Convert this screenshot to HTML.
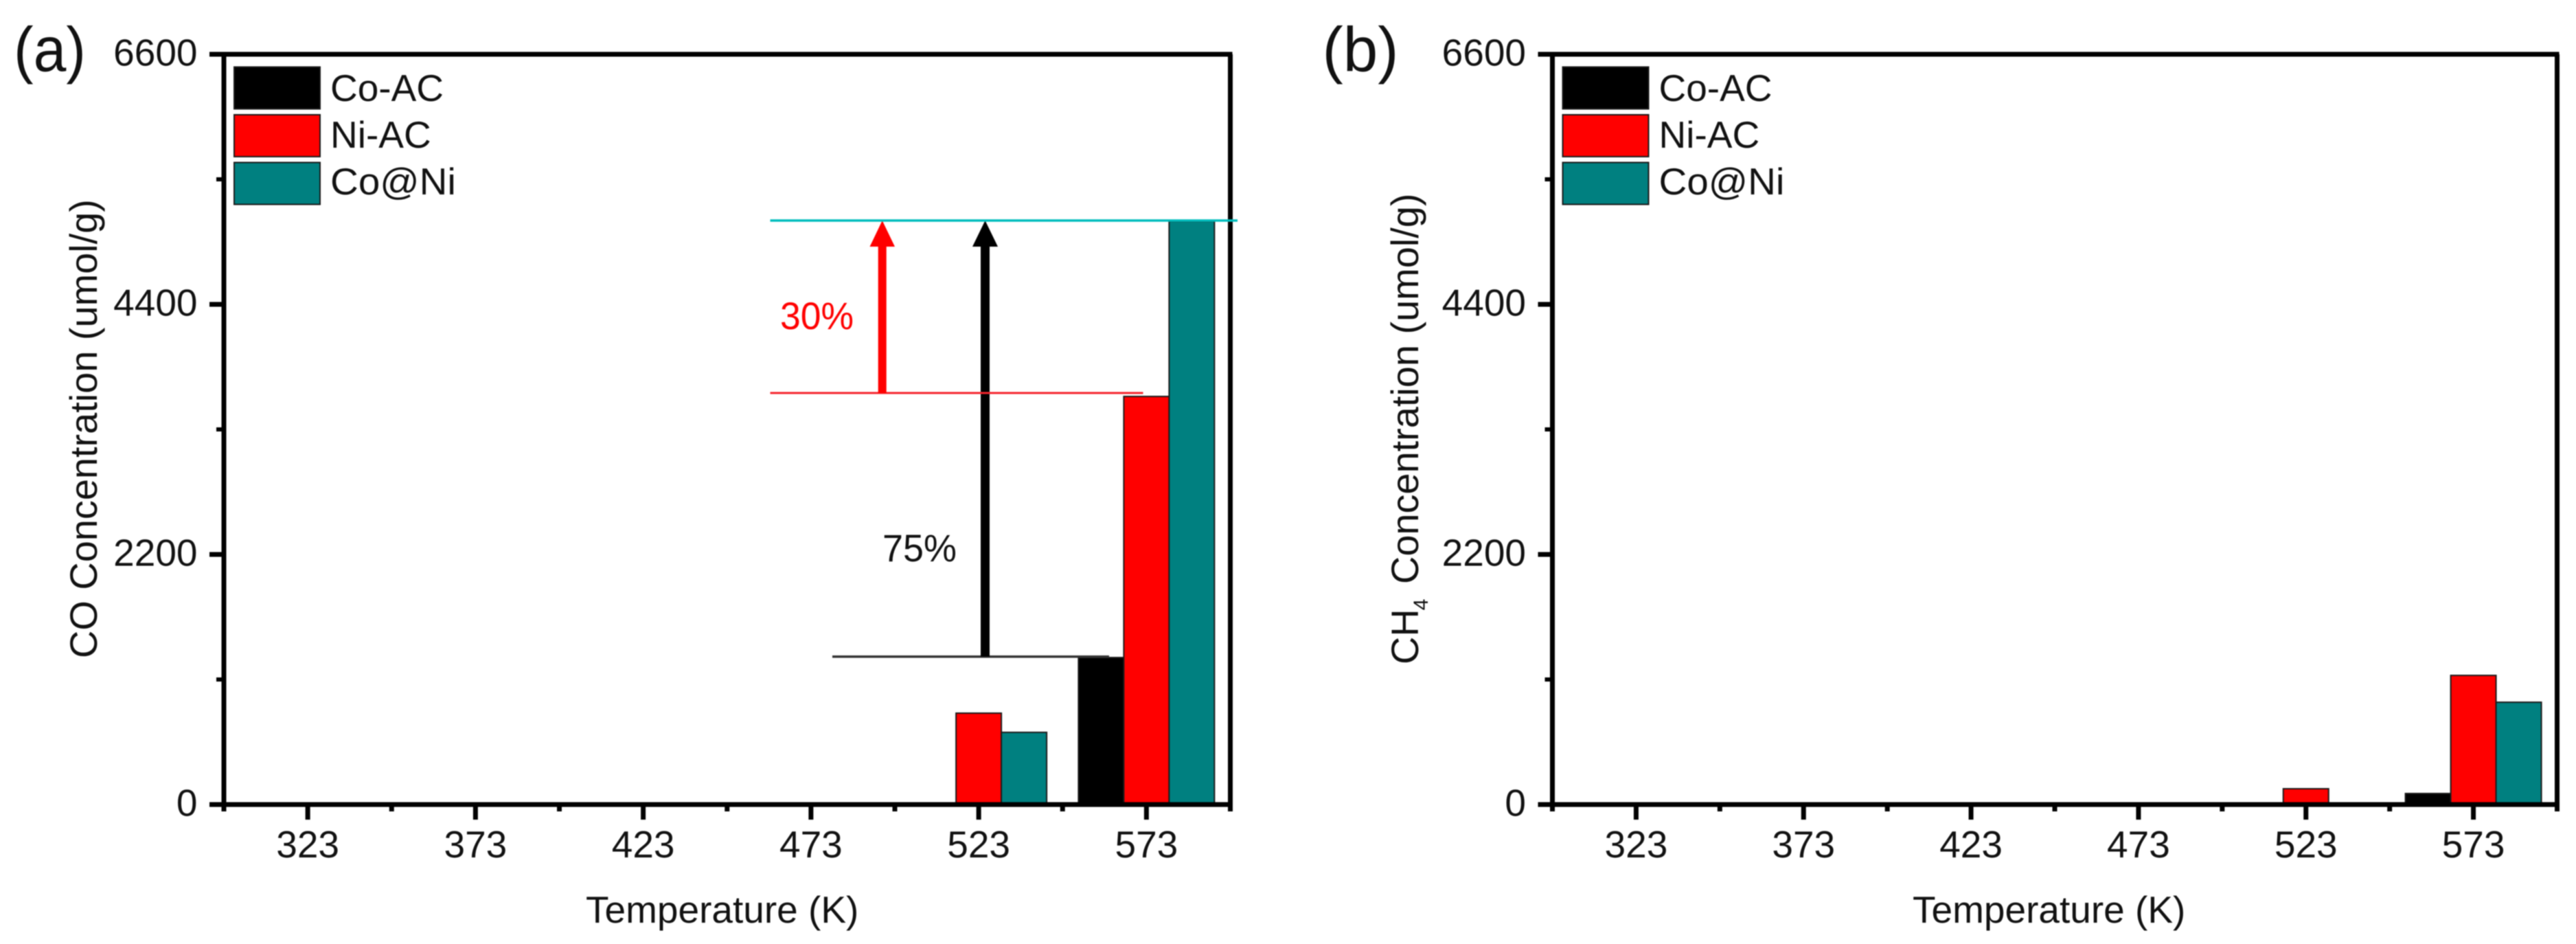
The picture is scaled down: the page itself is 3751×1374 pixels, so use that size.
<!DOCTYPE html>
<html lang="en">
<head>
<meta charset="utf-8">
<title>CO and CH4 concentration by temperature</title>
<style>
html,body{margin:0;padding:0;background:#fff;width:3751px;height:1374px;overflow:hidden}
svg{display:block;filter:blur(0.8px)}
text{font-family:"Liberation Sans",sans-serif;fill:#111}
</style>
</head>
<body>
<svg id="figure" xmlns="http://www.w3.org/2000/svg" width="3751" height="1374" viewBox="0 0 3751 1374">
  <rect width="3751" height="1374" fill="#fff"/>
  <text x="20" y="103.5" font-size="92" textLength="105" lengthAdjust="spacingAndGlyphs">(a)</text>
  <text x="1925.5" y="103.5" font-size="92" textLength="111" lengthAdjust="spacingAndGlyphs">(b)</text>
  <text x="853" y="1343" font-size="55">Temperature (K)</text>
  <text x="2785" y="1343" font-size="55">Temperature (K)</text>
  <text transform="translate(141 958) rotate(-90)" font-size="55.9">CO Concentration (umol/g)</text>
  <text transform="translate(2065 967) rotate(-90)" font-size="55.9">CH<tspan dy="14" dx="-2" font-size="30">4</tspan><tspan dy="-14" dx="6"> Concentration (umol/g)</tspan></text>
</svg>
<script>
// ---- chart data ----
const categories = ['323', '373', '423', '473', '523', '573'];
const seriesNames = ['Co-AC', 'Ni-AC', 'Co@Ni'];
const seriesColors = ['#000000', '#ff0000', '#008080'];
const yTickValues = [0, 2200, 4400, 6600];
const yMinorTickValues = [1100, 3300, 5500];
const coCoAc = [0, 0, 0, 0, 0, 1293];
const coNiAc = [0, 0, 0, 0, 804, 3590];
const coCoAtNi = [0, 0, 0, 0, 635, 5131];
const ch4CoAc = [0, 0, 0, 0, 0, 97];
const ch4NiAc = [0, 0, 0, 0, 139, 1136];
const ch4CoAtNi = [0, 0, 0, 0, 0, 900];
const coReferenceLevels = [5137, 3620, 1301];
const gainLabels = ['30%', '75%'];

const SVG_NS = 'http://www.w3.org/2000/svg';
const figure = document.getElementById('figure');
const Y_MAX = 6600;
const PLOT_TOP = 79;
const PLOT_BOTTOM = 1171;
const BAR_WIDTH = 66;

function yScale(value) {
  return PLOT_BOTTOM - (value / Y_MAX) * (PLOT_BOTTOM - PLOT_TOP);
}
function bandStep(panel) {
  return (panel.right - panel.left) / categories.length;
}
function xCenter(panel, index) {
  return panel.left + (index + 0.5) * bandStep(panel);
}
function make(tag, attrs, text) {
  const el = document.createElementNS(SVG_NS, tag);
  for (const key in attrs) el.setAttribute(key, attrs[key]);
  if (text !== undefined) el.textContent = text;
  figure.appendChild(el);
  return el;
}
function axisLine(x1, y1, x2, y2, width) {
  return make('line', { x1: x1, y1: y1, x2: x2, y2: y2, stroke: '#000', 'stroke-width': width });
}

function drawPanel(panel) {
  const id = panel.id;

  // bars
  panel.series.forEach(function (values, s) {
    values.forEach(function (value, c) {
      const top = yScale(value);
      const x = xCenter(panel, c) + (s - 1.5) * BAR_WIDTH;
      const bar = make('rect', {
        x: x, y: top, width: BAR_WIDTH, height: PLOT_BOTTOM - top,
        fill: seriesColors[s], stroke: '#1a1a1a', 'stroke-width': 2
      });
      
      
    });
  });

  // frame
  const frameTop = axisLine(panel.left - 21, PLOT_TOP, panel.right + 3, PLOT_TOP, 7);
  
  
  const frameRight = axisLine(panel.right, PLOT_TOP, panel.right, PLOT_BOTTOM, 7);
  
  
  const frameLeft = axisLine(panel.left, PLOT_TOP, panel.left, PLOT_BOTTOM, 7);
  
  
  const frameBottom = axisLine(panel.left - 21, PLOT_BOTTOM, panel.right + 3, PLOT_BOTTOM, 7);
  
  

  // y ticks and labels
  yTickValues.forEach(function (value) {
    const y = yScale(value);
    const tick = axisLine(panel.left - 21, y, panel.left, y, 7);
    
    
    const label = make('text', { x: panel.left - 38.5, y: y + 16.5, 'text-anchor': 'end', 'font-size': 55 }, String(value));
    
    
  });
  yMinorTickValues.forEach(function (value) {
    const y = yScale(value);
    const tick = axisLine(panel.left - 11, y, panel.left, y, 6);
    
    
  });

  // x ticks and labels
  categories.forEach(function (category, c) {
    const x = xCenter(panel, c);
    const tick = axisLine(x, PLOT_BOTTOM, x, 1193, 7);
    
    
    const label = make('text', { x: x, y: 1248, 'text-anchor': 'middle', 'font-size': 55 }, category);
    
    
  });
  for (let c = 0; c <= categories.length; c++) {
    const x = panel.left + c * bandStep(panel);
    const tick = axisLine(x, PLOT_BOTTOM, x, 1181, 7);
    
    
  }

  // legend
  seriesNames.forEach(function (name, s) {
    const swatchX = panel.left + 15;
    const swatchY = 97.5 + s * 69.5;
    const swatch = make('rect', {
      x: swatchX, y: swatchY, width: 125, height: 61,
      fill: seriesColors[s], stroke: '#1a1a1a', 'stroke-width': 2
    });
    
    
    const label = make('text', { x: swatchX + 140, y: 147 + s * 68, 'font-size': 55 }, name);
    if (name.indexOf('@') >= 0) {
      label.setAttribute('textLength', '183');
      label.setAttribute('lengthAdjust', 'spacingAndGlyphs');
    }
    
    
  });
}

const panelA = { id: 'panel-a', left: 326, right: 1791.5, series: [coCoAc, coNiAc, coCoAtNi] };
const panelB = { id: 'panel-b', left: 2260.5, right: 3723.5, series: [ch4CoAc, ch4NiAc, ch4CoAtNi] };
drawPanel(panelA);
drawPanel(panelB);

// annotations on panel (a)
const tealY = yScale(coReferenceLevels[0]);
const redY = yScale(coReferenceLevels[1]);
const blackY = yScale(coReferenceLevels[2]);

const blackRef = make('line', { x1: 1212, y1: blackY, x2: 1615, y2: blackY, stroke: '#333', 'stroke-width': 3.5 });



const blackShaft = make('rect', { x: 1428, y: tealY + 37, width: 13, height: blackY - tealY - 37, fill: '#000' });


const blackHead = make('polygon', {
  points: '1434.5,' + tealY + ' 1453,' + (tealY + 38) + ' 1416,' + (tealY + 38),
  fill: '#000'
});



const redRef = make('line', { x1: 1121.5, y1: redY, x2: 1664.5, y2: redY, stroke: '#f5242c', 'stroke-width': 3 });



const redShaft = make('rect', { x: 1278.7, y: tealY + 37, width: 12, height: redY - tealY - 37, fill: '#ff0000' });


const redHead = make('polygon', {
  points: '1284.7,' + tealY + ' 1303,' + (tealY + 38) + ' 1266.5,' + (tealY + 38),
  fill: '#ff0000'
});



const tealRef = make('line', { x1: 1121.5, y1: tealY, x2: 1802, y2: tealY, stroke: '#00bdbd', 'stroke-width': 3.5 });



const label30 = make('text', { x: 1136, y: 479, 'font-size': 56, textLength: 107, lengthAdjust: 'spacingAndGlyphs', style: 'fill:#ff0000' }, gainLabels[0]);


const label75 = make('text', { x: 1285, y: 817, 'font-size': 56, textLength: 108, lengthAdjust: 'spacingAndGlyphs' }, gainLabels[1]);


</script>
</body>
</html>
